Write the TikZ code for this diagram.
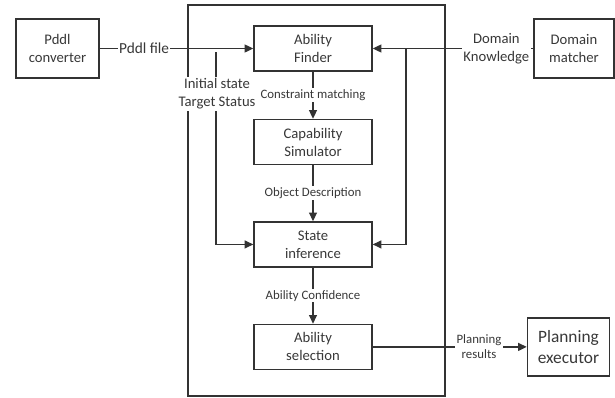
\documentclass[tikz,border=0pt]{standalone}
\usepackage{fontspec}
\setmainfont{Carlito}
\usetikzlibrary{positioning,arrows.meta}

\begin{document}
\begin{tikzpicture}[
  x=0.75pt, y=-0.75pt,
  every node/.style={font=\fontsize{11}{13.5}\selectfont, text=black!78, align=center},
  box/.style={draw=black!80, line width=1.1pt, minimum width=88.5pt, minimum height=33.75pt, inner sep=1pt},
  outbox/.style={draw=black!80, line width=1.1pt, minimum height=44pt, inner sep=1pt},
  lbl/.style={fill=white, inner sep=1pt},
  small/.style={fill=white, inner sep=1pt, font=\fontsize{9.6}{11.5}\selectfont},
  arr/.style={draw=black!80, line width=0.9pt, -{Triangle[length=6.5pt,width=6pt]}},
  ln/.style={draw=black!80, line width=0.9pt}
]
\useasboundingbox (0,0) rectangle (615,397);
% outer frame
\draw[ln] (188,5) rectangle (445,396);
% main chain
\node[box] (finder) at (313,48.5) {Ability\\Finder};
\node[box, below=35.25pt of finder] (simulator) {Capability\\Simulator};
\node[box, below=42pt of simulator] (state) {State\\inference};
\node[box, below=42pt of state] (selection) {Ability\\selection};
% outside boxes
\node[outbox, minimum width=62pt] (converter) at (57.5,48.5) {Pddl\\converter};
\node[outbox, minimum width=60pt] (matcher) at (574,48.5) {Domain\\matcher};
\node[outbox, minimum width=61.5pt, minimum height=43.5pt, font=\fontsize{13}{15.5}\selectfont, right=115.5pt of selection] (executor) {Planning\\executor};
\coordinate (tsplit) at (216,52);
\coordinate (ksplit) at (406,49);
\draw[arr] (converter) -- node[lbl, pos=0.29, font=\fontsize{11.5}{13.5}\selectfont] {Pddl file} (finder);
\draw[arr] (matcher) -- node[lbl, pos=0.23] {Domain\\Knowledge} (finder);
\draw[arr] (tsplit) |- (state);
\draw[arr] (ksplit) |- (state);
\draw[arr] (finder) -- node[small] {Constraint matching} (simulator);
\draw[arr] (simulator) -- node[small] {Object Description} (state);
\draw[arr] (state) -- node[small] {Ability Confidence} (selection);
\draw[arr] (selection) -- node[small, pos=0.69] {Planning\\results} (executor);
\node[lbl] (initlbl) at (217,94) {Initial state\\Target Status};
\end{tikzpicture}
\end{document}
